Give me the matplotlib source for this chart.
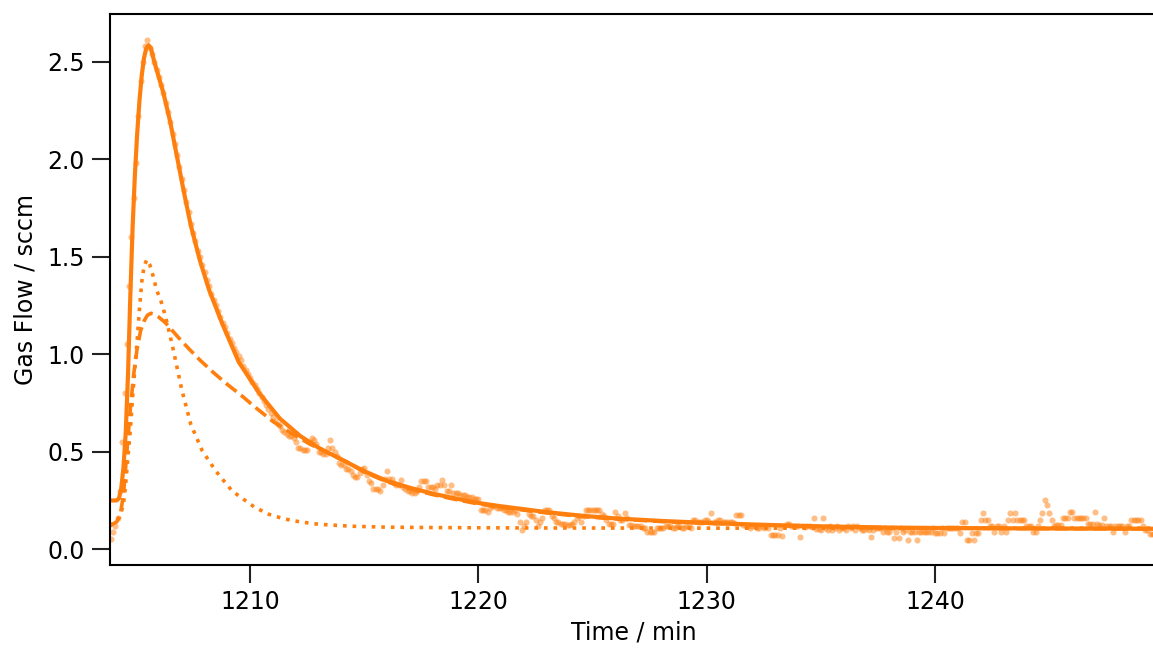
import numpy as np
import matplotlib
matplotlib.use("Agg")
import matplotlib.pyplot as plt

ORANGE = "#ff7f0e"

# ---- measured gas flow (sampled every 0.1 min starting at 1203.9 min) ----
t_start = 1203.9
dt = 0.1
flow = [
    0.05,
    0.09, 0.12, 0.16, 0.30, 0.55, 0.80, 1.05, 1.35, 1.60, 1.80,   # 1204
    1.98, 2.22, 2.40, 2.50, 2.58, 2.61, 2.57, 2.54, 2.50, 2.46,   # 1205
    2.42, 2.38, 2.34, 2.29, 2.24, 2.19, 2.13, 2.08, 2.02, 1.96,   # 1206
    1.90, 1.84, 1.78, 1.73, 1.67, 1.62, 1.58, 1.53, 1.50, 1.46,   # 1207
    1.42, 1.38, 1.35, 1.31, 1.28, 1.25, 1.22, 1.19, 1.16, 1.14,   # 1208
    1.11, 1.08, 1.06, 1.03, 1.01, 0.99, 0.97, 0.94, 0.92, 0.90,   # 1209
    0.88, 0.86, 0.84, 0.82, 0.80, 0.78, 0.76, 0.74, 0.72, 0.70,   # 1210
    0.68, 0.66, 0.64, 0.63, 0.61, 0.60, 0.59, 0.58, 0.58, 0.57,   # 1211
    0.55, 0.52, 0.52, 0.51, 0.51, 0.51, 0.55, 0.57, 0.56, 0.54,   # 1212
    0.50, 0.50, 0.49, 0.49, 0.52, 0.56, 0.52, 0.50, 0.48, 0.44,   # 1213
    0.43, 0.43, 0.41, 0.41, 0.40, 0.38, 0.37, 0.37, 0.39, 0.41,   # 1214
    0.415, 0.38, 0.35, 0.34, 0.31, 0.31, 0.31, 0.30, 0.33, 0.36,  # 1215
    0.40, 0.36, 0.36, 0.34, 0.33, 0.33, 0.355, 0.32, 0.31, 0.30,  # 1216
    0.30, 0.29, 0.29, 0.30, 0.32, 0.35, 0.35, 0.35, 0.32, 0.32,   # 1217
    0.32, 0.31, 0.33, 0.33, 0.355, 0.33, 0.30, 0.30, 0.33, 0.29,  # 1218
    0.29, 0.29, 0.28, 0.28, 0.28, 0.27, 0.27, 0.27, 0.26, 0.26,   # 1219
    0.26, 0.20, 0.20, 0.20, 0.19, 0.21, 0.22, 0.22, 0.21, 0.21,   # 1220
    0.21, 0.20, 0.20, 0.19, 0.19, 0.19, 0.20, 0.18, 0.14, 0.10,   # 1221
    0.12, 0.14, 0.18, 0.17, 0.17, 0.15, 0.12, 0.14, 0.16, 0.20,   # 1222
    0.20, 0.20, 0.17, 0.16, 0.14, 0.14, 0.13, 0.13, 0.13, 0.125,  # 1223
    0.125, 0.13, 0.14, 0.16, 0.17, 0.14, 0.17, 0.20, 0.20, 0.20,  # 1224
    0.20, 0.20, 0.20, 0.20, 0.18, 0.17, 0.15, 0.13, 0.13, 0.13,   # 1225
    0.19, 0.17, 0.15, 0.15, 0.185, 0.16, 0.125, 0.125, 0.12, 0.12,  # 1226
    0.12, 0.12, 0.11, 0.11, 0.09, 0.09, 0.09, 0.09, 0.11, 0.11,   # 1227
    0.11, 0.11, 0.12, 0.12, 0.12, 0.11, 0.11, 0.12, 0.12, 0.11,   # 1228
    0.11, 0.12, 0.12, 0.11, 0.15, 0.15, 0.14, 0.14, 0.14, 0.15,   # 1229
    0.15, 0.14, 0.185, 0.14, 0.14, 0.15, 0.15, 0.14, 0.14, 0.14,  # 1230
    0.14, 0.14, 0.135, 0.175, 0.176, 0.176, 0.125, 0.12, 0.12, 0.11,  # 1231
    0.12, 0.12, 0.11, 0.11, 0.12, 0.11, 0.12, 0.11, 0.073, 0.073,  # 1232
    0.073, 0.073, 0.11, 0.07, 0.12, 0.13, 0.13, 0.12, 0.12, 0.12,  # 1233
    0.12, 0.065, 0.12, 0.115, 0.12, 0.12, 0.115, 0.16, 0.105, 0.105,  # 1234
    0.10, 0.16, 0.11, 0.10, 0.12, 0.10, 0.11, 0.12, 0.10, 0.11,   # 1235
    0.11, 0.10, 0.12, 0.11, 0.12, 0.10, 0.12, 0.11, 0.10, 0.10,   # 1236
    0.11, 0.10, 0.065, 0.10, 0.11, 0.11, 0.11, 0.09, 0.11, 0.09,  # 1237
    0.09, 0.11, 0.056, 0.09, 0.056, 0.11, 0.09, 0.10, 0.048, 0.09,  # 1238
    0.09, 0.09, 0.048, 0.09, 0.09, 0.09, 0.09, 0.09, 0.09, 0.11,  # 1239
    0.083, 0.083, 0.083, 0.11, 0.083, 0.11, 0.11, 0.11, 0.11, 0.11,  # 1240
    0.11, 0.083, 0.14, 0.14, 0.048, 0.048, 0.085, 0.048, 0.085, 0.085,  # 1241
    0.15, 0.185, 0.15, 0.15, 0.12, 0.12, 0.09, 0.12, 0.12, 0.09,  # 1242
    0.12, 0.09, 0.15, 0.185, 0.15, 0.185, 0.15, 0.15, 0.15, 0.15,  # 1243
    0.12, 0.12, 0.12, 0.09, 0.09, 0.12, 0.15, 0.185, 0.253, 0.227,  # 1244
    0.185, 0.15, 0.12, 0.125, 0.125, 0.125, 0.16, 0.16, 0.16, 0.19,  # 1245
    0.19, 0.16, 0.16, 0.16, 0.16, 0.16, 0.16, 0.13, 0.13, 0.13,   # 1246
    0.19, 0.13, 0.125, 0.125, 0.16, 0.12, 0.12, 0.12, 0.09, 0.12,  # 1247
    0.12, 0.12, 0.12, 0.09, 0.12, 0.12, 0.15, 0.15, 0.15, 0.15,   # 1248
    0.15, 0.12, 0.10, 0.10, 0.08, 0.08, 0.08,                     # 1249
]

# ---- total fit (solid) ----
fit_t = [1203.86, 1204.0, 1204.15, 1204.25, 1204.35, 1204.45, 1204.55, 1204.65,
         1204.75, 1204.85, 1204.95, 1205.05, 1205.15, 1205.25, 1205.35, 1205.45,
         1205.55, 1205.65, 1205.8, 1206.0, 1206.2, 1206.5, 1206.8, 1207.1, 1207.4,
         1207.8, 1208.2, 1208.8, 1209.5, 1210.4, 1211.3, 1212.2, 1213.0, 1214.0,
         1215.0, 1216.0, 1217.0, 1218.0, 1219.0, 1220.0, 1221.0, 1222.0, 1223.0,
         1224.5, 1226.0, 1228.0, 1230.0, 1232.0, 1234.0, 1236.0, 1238.0, 1240.0,
         1243.0, 1246.0, 1249.8]
fit_total = [0.25, 0.25, 0.25, 0.26, 0.31, 0.42, 0.60, 0.90,
             1.30, 1.65, 1.92, 2.13, 2.30, 2.43, 2.52, 2.57,
             2.585, 2.57, 2.50, 2.42, 2.34, 2.19, 2.01, 1.83, 1.66,
             1.48, 1.33, 1.15, 0.96, 0.80, 0.67, 0.58, 0.52, 0.46,
             0.40, 0.35, 0.315, 0.285, 0.26, 0.237, 0.22, 0.205, 0.19,
             0.172, 0.158, 0.145, 0.135, 0.127, 0.12, 0.115, 0.111, 0.109,
             0.107, 0.106, 0.105]

# ---- fast component (dotted) ----
fast_t = [1203.86, 1204.0, 1204.15, 1204.25, 1204.35, 1204.45, 1204.55, 1204.65,
          1204.75, 1204.85, 1204.95, 1205.05, 1205.15, 1205.25, 1205.35, 1205.47,
          1205.6, 1205.75, 1205.9, 1206.1, 1206.3, 1206.6, 1207.0, 1207.4, 1207.9,
          1208.5, 1209.2, 1209.6, 1210.2, 1210.8, 1211.5, 1212.2, 1213.0, 1214.4,
          1216.0, 1218.0, 1222.0, 1230.0, 1249.8]
fast_comp = [0.12, 0.135, 0.15, 0.16, 0.19, 0.23, 0.34, 0.48,
             0.61, 0.78, 0.93, 1.07, 1.23, 1.37, 1.45, 1.485,
             1.46, 1.40, 1.33, 1.27, 1.19, 1.04, 0.82, 0.64, 0.505,
             0.40, 0.30, 0.265, 0.215, 0.18, 0.155, 0.14, 0.128, 0.118,
             0.113, 0.111, 0.109, 0.108, 0.108]

# ---- slow component (dashed) ----
slow_t = [1203.86, 1204.0, 1204.15, 1204.3, 1204.45, 1204.6, 1204.75, 1204.9,
          1205.05, 1205.2, 1205.35, 1205.5, 1205.65, 1205.8, 1206.0, 1206.3,
          1206.6, 1206.9, 1207.3, 1207.8, 1208.4, 1209.0, 1209.6, 1210.2, 1211.0,
          1211.8, 1212.6, 1213.4, 1214.2, 1215.0, 1216.0, 1217.0, 1218.0, 1219.0,
          1220.0, 1221.0, 1222.0, 1223.0, 1224.5, 1226.0, 1228.0, 1230.0, 1232.0,
          1234.0, 1236.0, 1238.0, 1240.0, 1243.0, 1246.0, 1249.8]
slow_comp = [0.12, 0.13, 0.14, 0.17, 0.28, 0.50, 0.72, 0.90,
             1.03, 1.12, 1.17, 1.20, 1.21, 1.205, 1.19, 1.16,
             1.12, 1.08, 1.03, 0.97, 0.905, 0.845, 0.79, 0.73, 0.655,
             0.595, 0.54, 0.495, 0.45, 0.395, 0.345, 0.31, 0.28, 0.255,
             0.232, 0.215, 0.20, 0.186, 0.168, 0.155, 0.142, 0.133, 0.125,
             0.119, 0.114, 0.11, 0.108, 0.106, 0.105, 0.104]

x_ticks = [1210, 1220, 1230, 1240]
y_ticks = [0.0, 0.5, 1.0, 1.5, 2.0, 2.5]

time = t_start + dt * np.arange(len(flow))

fig = plt.figure(figsize=(11.53, 6.5), dpi=100)
ax = fig.add_axes([110 / 1153, 1 - 565 / 650, (1157 - 110) / 1153, (565 - 14) / 650])

ax.plot(time, flow, linestyle="none", marker="o", markersize=4.4,
        markeredgewidth=0, color=ORANGE, alpha=0.5)
ax.plot(fit_t, fit_total, color=ORANGE, lw=3.0, solid_capstyle="round")
ax.plot(slow_t, slow_comp, color=ORANGE, lw=2.6, linestyle="--")
ax.plot(fast_t, fast_comp, color=ORANGE, lw=2.6, linestyle=":")

ax.set_xlim(1203.86, 1249.72)
ax.set_ylim(-0.081, 2.745)
ax.set_xticks(x_ticks)
ax.set_yticks(y_ticks)
ax.set_yticklabels([f"{v:.1f}" for v in y_ticks])

ax.tick_params(axis="both", which="major", length=13, width=1.5,
               labelsize=17, pad=5, color="#222222")
for sp in ax.spines.values():
    sp.set_linewidth(1.5)
ax.spines["right"].set_visible(False)

ax.set_xlabel("Time / min", fontsize=17, labelpad=5)
ax.set_ylabel("Gas Flow / sccm", fontsize=17, labelpad=7)

fig.savefig("out.png", dpi=100)
